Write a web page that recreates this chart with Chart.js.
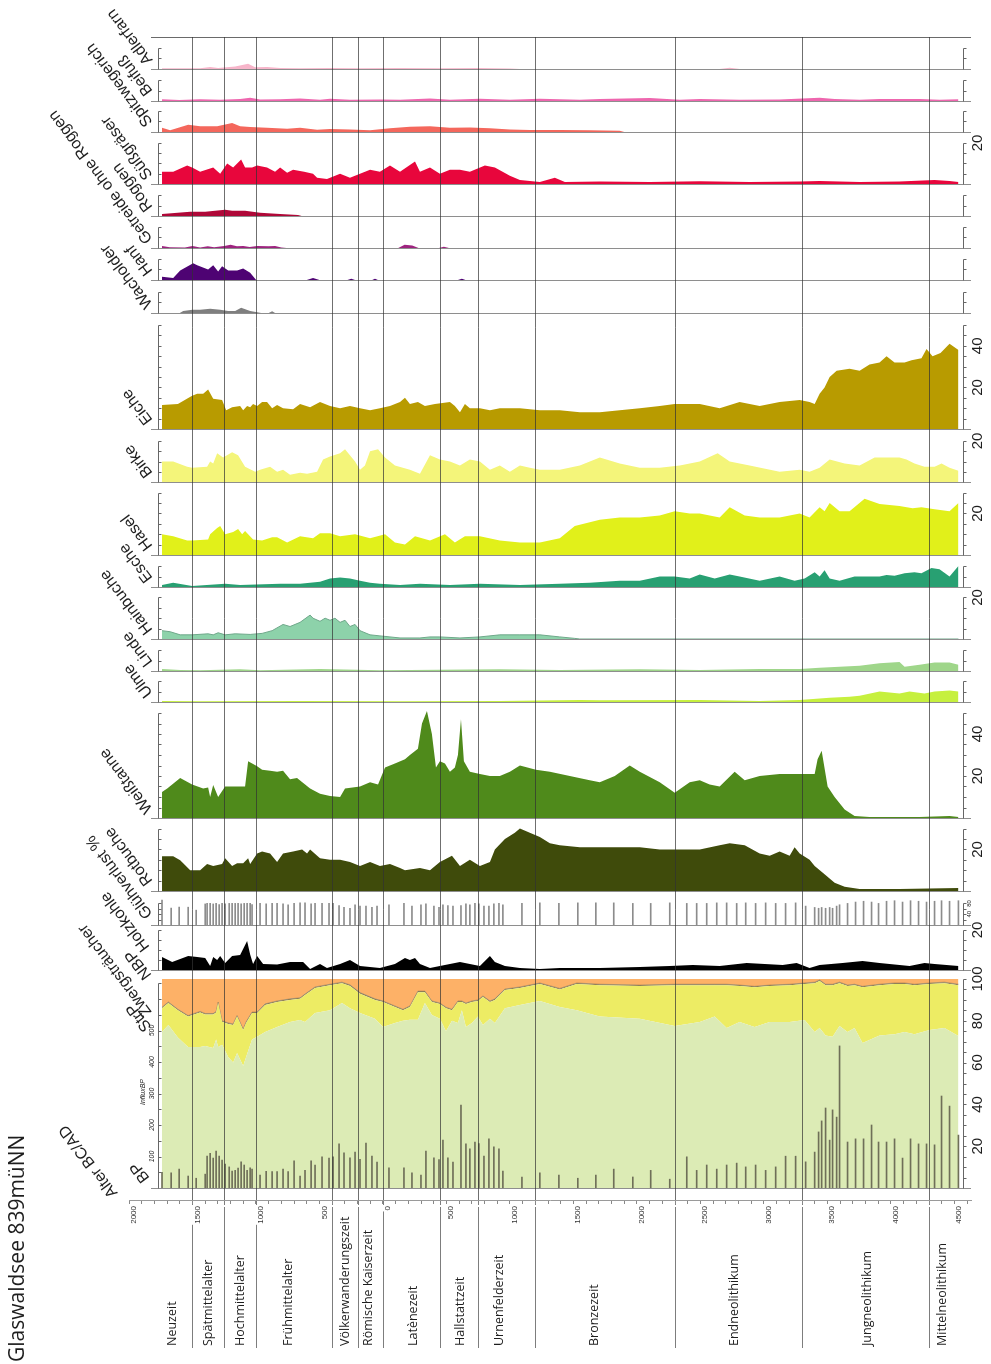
<!DOCTYPE html>
<html>
<head>
<meta charset="utf-8">
<script src="https://cdn.jsdelivr.net/npm/chart.js@4.4.1/dist/chart.umd.min.js"></script>
<style>
  body { margin: 0; background: #fff; }
  canvas { display: block; }
</style>
</head>
<body>
<canvas id="diagram" width="991" height="1364"></canvas>
<script>
// ---- data: ages in years, AD negative / BC positive; values in % ----
const taxonNames = ['Adlerfarn', 'Beifuß', 'Spitzwegerich', 'Süßgräser', 'Roggen', 'Getreide ohne Roggen',
  'Hanf', 'Wacholder', 'Eiche', 'Birke', 'Hasel', 'Esche', 'Hainbuche', 'Linde', 'Ulme', 'Weißtanne',
  'Rotbuche', 'Glühverlust %', 'Holzkohle', 'NBP', 'Zwergsträucher', 'StrP', 'BP'];

const periodNames = ['Neuzeit', 'Spätmittelalter', 'Hochmittelalter', 'Frühmittelalter', 'Völkerwanderungszeit',
  'Römische Kaiserzeit', 'Latènezeit', 'Hallstattzeit', 'Urnenfelderzeit', 'Bronzezeit', 'Endneolithikum',
  'Jungneolithikum', 'Mittelneolithikum'];
const periodBounds = [-1500, -1250, -1000, -400, -200, 0, 450, 750, 1200, 2300, 3300, 4300];
const periodLabelAges = [-1660, -1377, -1125, -747, -299, -118, 236, 606, 920, 1668, 2769, 3815, 4405];

const adlerfarn = [[-1740,0.3],[-1440,0.3],[-1361,1],[-1298,0.5],[-1164,1.2],[-1062,2.5],[-1007,0.8],[-913,1],[-810,0.5],[-653,0.3],[-417,0.5],[-181,0.3],[134,0.5],[448,0.3],[763,0.5],[999,0.2],[1078,0],[2650,0],[2730,0.6],[2810,0]];
const beifuss = [[-1740,0.8],[-1604,0.5],[-1440,0.8],[-1282,0.6],[-1125,1],[-1046,1.6],[-968,0.7],[-810,0.8],[-653,1.2],[-496,0.6],[-417,1.1],[-260,0.6],[-24,0.7],[134,0.6],[370,1.2],[527,0.6],[763,1.1],[999,0.6],[1235,1.1],[1550,0.6],[1707,1],[2101,1.4],[2337,0.6],[2494,1],[2808,0.6],[3123,0.7],[3438,1.5],[3556,1],[3753,0.6],[3910,1],[4225,1],[4382,0.6],[4531,0.8]];
const spitzwegerich = [[-1740,2],[-1676,0.8],[-1534,3.5],[-1440,2.7],[-1306,2.7],[-1188,4.3],[-1125,2.7],[-1046,2.4],[-913,2],[-755,1.6],[-653,2],[-519,1.1],[-417,1.4],[-260,1.2],[-102,0.8],[55,1.8],[212,2.5],[370,2.7],[527,2],[684,2.2],[842,1.8],[999,1.2],[1156,1],[1392,1],[1628,0.8],[1864,0.6],[1900,0]];
const suessgraeser = [[-1740,6],[-1652,6],[-1542,9],[-1503,8],[-1440,6],[-1337,8],[-1282,5],[-1227,10],[-1180,8],[-1117,12],[-1086,8],[-1031,8],[-991,9],[-913,8],[-850,6],[-810,8],[-755,5.5],[-708,7],[-621,6],[-551,5],[-519,3],[-441,2.5],[-338,5],[-260,3],[-181,5],[-102,7],[-24,6],[55,9],[134,6],[252,11],[291,6],[370,8],[448,5],[527,7],[606,7],[684,6],[802,9],[881,8],[999,4],[1078,2],[1235,1],[1353,3],[1432,1],[1707,1.2],[2101,1],[2494,1.3],[2887,1],[3281,1.2],[3438,1.5],[3753,1],[4067,1.2],[4343,2],[4461,1.5],[4531,1]];
const roggen = [[-1740,1],[-1518,2],[-1400,2],[-1243,3],[-1188,2.5],[-1086,2.5],[-968,1.5],[-810,1],[-669,0.5],[-640,0]];
const getreide = [[-1740,1],[-1680,0.3],[-1560,0.2],[-1500,1],[-1440,0.2],[-1380,0.8],[-1330,0.3],[-1250,1],[-1200,1.5],[-1150,0.8],[-1100,1],[-1050,0.5],[-990,1],[-900,0.8],[-850,1],[-800,0.2],[-760,0],[120,0],[170,1.5],[230,1.2],[280,0],[440,0],[480,0.6],[520,0]];
const hanf = [[-1740,1.5],[-1652,1],[-1597,4.5],[-1495,8],[-1463,7],[-1377,5],[-1337,7],[-1298,4],[-1267,6.5],[-1219,4.5],[-1149,4.5],[-1101,5.5],[-1046,3.5],[-999,0],[-600,0],[-551,1],[-500,0],[-280,0],[-250,0.6],[-220,0],[-85,0],[-63,0.6],[-40,0],[590,0],[621,0.6],[650,0]];
const wacholder = [[-1600,0],[-1573,1],[-1500,1.5],[-1440,1.5],[-1361,2],[-1282,1.5],[-1219,1],[-1164,1],[-1117,2.5],[-1046,1],[-991,0.3],[-960,0],[-900,0],[-873,0.8],[-850,0]];
const eiche = [[-1740,11.5],[-1615,12],[-1503,16],[-1463,17],[-1416,17],[-1377,19],[-1337,14.5],[-1267,14],[-1235,9],[-1188,10.5],[-1125,11],[-1101,9],[-1070,11],[-1046,10.5],[-1023,12],[-991,11],[-952,13],[-913,13],[-873,10],[-834,11.5],[-787,10],[-708,9.5],[-653,12],[-574,10.5],[-496,13],[-417,11],[-338,10],[-260,11],[-181,10],[-102,9],[-24,10],[55,11],[134,13],[173,15],[212,12],[275,13],[330,11],[409,12],[527,13],[566,11],[606,8],[645,12],[684,10],[763,10],[842,9],[920,10],[1078,10],[1235,9],[1392,9],[1550,8],[1707,8],[1864,9],[2022,10],[2179,11],[2297,12],[2494,12],[2651,10],[2808,13],[2966,11],[3123,13],[3281,14],[3359,13],[3399,12],[3438,17],[3477,20],[3517,25],[3572,28],[3674,29],[3753,28],[3831,31],[3910,32],[3965,35],[4028,32],[4107,32],[4162,33],[4240,34],[4280,38.5],[4327,35],[4390,36.5],[4461,41],[4531,38]];
const birke = [[-1740,10],[-1652,10],[-1542,7.5],[-1503,7],[-1385,7.5],[-1361,10],[-1337,9],[-1306,14],[-1259,12],[-1188,14.5],[-1141,13],[-1086,7.5],[-1007,5],[-968,6],[-889,7.5],[-834,5],[-787,6],[-732,3.5],[-653,4.5],[-598,4],[-519,5],[-472,11],[-417,12.5],[-338,14],[-299,16],[-220,10],[-181,6],[-142,8],[-102,15],[-39,16],[16,12],[94,8],[212,6],[291,4],[370,13],[448,11],[527,10],[606,8],[684,11],[763,10],[842,6],[920,8],[999,5],[1078,8],[1156,7],[1235,6],[1392,6],[1550,8],[1707,12],[1864,9],[2022,7],[2179,7],[2337,8],[2494,10],[2635,14],[2730,10],[2887,8],[3123,5],[3281,6],[3359,5],[3438,7],[3517,11],[3635,9],[3753,8],[3871,12],[4067,12],[4122,11],[4185,9],[4264,7.5],[4343,7.5],[4398,9],[4461,7],[4531,5.5]];
const hasel = [[-1740,10],[-1652,9],[-1542,7],[-1503,7],[-1377,7.5],[-1361,10],[-1306,13],[-1282,14],[-1243,10],[-1180,11],[-1141,12.5],[-1109,10],[-1086,11.5],[-1023,7.5],[-952,7],[-873,8.5],[-834,8.5],[-755,6],[-653,9],[-551,8],[-496,10.5],[-417,10.5],[-338,9],[-220,10],[-102,8],[16,10],[94,6],[173,5],[252,9],[370,7],[488,10],[566,6],[645,9],[763,9],[920,7],[1078,6],[1235,6],[1392,8],[1510,14],[1707,17],[1864,18],[2022,18],[2179,19],[2297,21],[2415,20],[2494,20],[2651,18],[2730,23],[2848,19],[2966,18],[3123,18],[3281,20],[3359,18],[3438,23],[3477,21],[3517,25],[3595,21],[3674,21],[3792,27],[3910,24.5],[4067,23.5],[4170,22.5],[4240,23],[4343,22],[4461,21],[4531,25]];
const esche = [[-1740,1],[-1652,2],[-1503,0.5],[-1243,1.5],[-1125,1],[-810,1.5],[-653,1.5],[-496,2.5],[-417,4],[-338,4.5],[-260,4],[-181,3],[-102,2],[-24,1.5],[134,1],[291,1.5],[527,1],[763,1.5],[1078,1],[1392,1.5],[1628,2],[1864,3],[2022,3],[2179,5],[2297,5],[2415,4],[2494,6],[2612,4],[2730,6],[2808,5],[2966,3],[3123,5],[3241,3],[3320,4],[3399,7],[3438,5],[3477,8],[3517,4],[3595,3],[3713,5],[3831,5],[3910,5],[3965,5.7],[4028,5.3],[4107,6.5],[4185,7],[4240,6.5],[4319,9],[4382,8.5],[4461,5],[4531,10]];
const hainbuche = [[-1740,4],[-1676,3.5],[-1597,2],[-1503,2],[-1377,2.5],[-1337,2],[-1298,3],[-1243,2],[-1164,2.5],[-1046,2.2],[-952,2.7],[-873,4],[-787,7],[-732,6],[-653,8],[-574,11.5],[-551,10],[-496,8.5],[-456,10],[-417,9],[-378,10],[-338,8],[-299,9],[-260,6],[-220,7],[-181,4],[-102,2],[-24,1.5],[55,1],[134,0.5],[291,0.5],[370,1],[448,1],[606,0.5],[763,1],[920,2],[1078,2],[1235,2],[1392,1],[1510,0.3],[1550,0],[4531,0]];
const linde = [[-1740,1],[-1597,0.5],[-1440,0.3],[-1125,0.8],[-968,0.3],[-496,1],[-24,0.3],[920,0.8],[1392,0.5],[2022,0.8],[2494,0.5],[2966,1],[3281,1],[3438,1.5],[3595,2],[3753,2.5],[3910,3.7],[4067,4.3],[4107,2],[4225,3],[4343,4],[4461,4],[4531,3]];
const ulme = [[-1740,0.5],[-1440,0.3],[-653,0.5],[134,0.3],[920,0.5],[1550,1],[1707,0.8],[2494,1],[2966,0.5],[3281,1],[3517,2],[3674,2.5],[3753,3],[3910,5],[4067,4],[4146,5],[4264,4],[4343,5],[4461,5.5],[4531,5]];
const weisstanne = [[-1740,12.4],[-1699,14],[-1597,19],[-1503,16],[-1416,14],[-1377,14.5],[-1361,10],[-1337,15.7],[-1298,10],[-1243,15],[-1125,15],[-1086,15],[-1062,27],[-991,24.7],[-952,23],[-889,22.5],[-834,22],[-787,22.5],[-732,18.5],[-677,19],[-574,14],[-496,11.5],[-417,10.5],[-338,10],[-299,14],[-181,15],[-102,17],[-39,16],[16,24],[94,26],[173,28],[212,30],[275,33],[307,45],[346,51],[385,40],[417,24],[448,27],[488,26],[527,22],[566,24],[590,30],[614,47],[637,27],[684,22],[763,21],[842,20],[920,20],[999,22],[1078,25],[1204,23],[1314,22],[1471,20],[1628,18],[1707,17],[1825,20],[1943,25],[2022,22],[2179,17],[2297,12],[2415,17],[2494,18],[2572,16],[2651,15],[2769,22],[2848,18],[2966,20],[3123,21],[3281,21],[3399,21],[3422,28],[3454,32],[3501,15],[3556,10],[3635,4],[3713,1],[3831,0.5],[4067,0.5],[4225,0.5],[4461,1],[4531,0.5]];
const rotbuche = [[-1740,16.7],[-1652,16.7],[-1597,14.8],[-1518,10],[-1440,10],[-1385,13],[-1337,12],[-1267,13],[-1243,15.7],[-1188,12],[-1149,13.3],[-1101,13.3],[-1062,15.7],[-1046,13],[-991,18],[-952,19],[-889,18],[-834,14],[-787,18],[-708,19],[-637,20],[-598,18],[-574,20],[-496,15.7],[-417,15],[-338,15],[-260,14],[-181,12],[-102,14],[-24,12],[55,13],[134,11],[173,10],[291,11],[370,10],[448,14],[543,17],[606,12],[684,15],[763,12],[842,14],[881,20],[960,25],[1038,28],[1078,30],[1156,28],[1235,26],[1314,23],[1392,22],[1550,21],[1707,21],[1864,21],[2022,21],[2179,20],[2337,20],[2494,20],[2651,22],[2730,23],[2848,22],[2966,18],[3045,17],[3123,19],[3202,17],[3241,21],[3281,18],[3359,15],[3399,12],[3477,8],[3556,4],[3635,2],[3753,1],[4067,1],[4531,1.5]];
const holzkohle = [[-1740,6.5],[-1660,4],[-1534,7],[-1463,6.5],[-1400,6],[-1361,2],[-1337,6.5],[-1306,5],[-1282,7],[-1243,3.5],[-1188,7],[-1125,7.5],[-1070,14.5],[-1046,7.7],[-1023,3],[-991,7],[-944,3],[-834,2.7],[-732,4],[-629,4],[-574,0.5],[-496,3],[-441,1],[-338,3],[-260,5],[-181,2],[-24,1],[94,3],[173,6],[212,5],[252,6],[291,3],[370,1],[448,2],[527,3],[606,4],[684,3],[763,2],[842,7],[881,4],[960,2],[1078,1],[1235,0.5],[1392,1],[1707,1],[2022,1.5],[2258,2],[2439,2.5],[2651,2],[2864,3.5],[3147,2.5],[3257,3.5],[3359,1],[3438,2.5],[3619,3.5],[3776,4.5],[3910,3.5],[4146,2],[4264,3.5],[4343,3],[4531,2]];

// samples shared by the bar series (Glühverlust %, pollen influx)
const sampleAges = [-1740,-1668,-1605,-1534,-1471,-1400,-1385,-1361,-1337,-1314,-1290,-1267,-1243,-1211,-1188,-1164,-1141,-1117,-1093,-1070,-1046,-1031,-968,-920,-873,-834,-787,-747,-700,-653,-614,-566,-535,-480,-425,-393,-346,-307,-260,-220,-181,-134,-87,-47,47,165,228,299,338,401,441,472,511,551,614,653,684,724,755,795,834,873,913,944,1094,1235,1385,1534,1676,1817,1967,2108,2258,2392,2470,2549,2628,2706,2785,2856,2934,3013,3092,3170,3249,3328,3399,3430,3454,3485,3517,3540,3572,3595,3658,3721,3784,3847,3902,3965,4028,4091,4154,4217,4280,4343,4398,4461,4531];
const gluehverlust = [92,63,66,66,55,78,80,80,78,80,76,80,78,80,80,80,80,78,80,80,80,76,80,78,80,80,78,75,80,82,82,78,80,80,80,80,72,65,62,75,70,70,65,70,75,80,70,75,78,70,65,75,72,70,72,78,75,80,78,70,70,78,80,75,80,82,80,82,82,82,80,80,82,80,80,80,82,82,80,82,80,82,80,80,82,70,65,62,65,62,65,62,70,75,80,85,88,85,80,88,90,85,90,88,85,88,90,88,90];
const influx = [50,48,60,38,31,44,101,110,95,117,101,89,76,67,54,56,63,83,73,56,64,60,41,53,52,52,60,52,86,38,56,86,73,99,95,99,140,112,96,114,91,143,101,82,64,64,48,41,117,96,90,152,96,82,263,140,124,146,141,101,156,131,124,54,35,48,41,31,41,60,35,56,28,99,56,73,60,73,79,67,73,56,67,101,101,83,114,178,213,254,152,248,225,451,146,156,156,200,146,146,156,95,156,140,140,137,292,260,168];

// main diagram (stacked to 100 %)
const mainAges = [-1740,-1690,-1615,-1535,-1440,-1400,-1337,-1314,-1298,-1267,-1219,-1180,-1149,-1101,-1078,-1031,-991,-928,-834,-732,-653,-614,-535,-417,-323,-260,-181,-63,0,94,157,212,275,330,385,448,496,543,590,621,653,700,747,787,842,881,960,1078,1235,1392,1526,1707,2022,2297,2494,2612,2706,2808,2926,3045,3202,3320,3399,3438,3485,3540,3595,3658,3713,3776,3910,4028,4107,4185,4303,4421,4531];
const bp = [74.6,78,72,67.5,67.5,68,67,71,67.5,68.5,62.7,60,64.6,58.4,62.7,71,72.4,74.6,77,79.4,80.4,79.4,83.7,85,88.5,86,83.7,81,77,79,80,80.5,80.5,88.5,82.8,81,75,80,79,85,77,79,82,78,81,79,86,87.6,89.5,86.6,85,82,81,77.5,79.4,82,76.5,79.4,77,79.4,79.4,80.4,74.6,76.5,73,72.4,77.5,74.6,76.5,69.4,73,73.6,74.6,73.6,75.6,76.5,72.7];
const strp = [11.4,10.5,13,14.5,16.5,15,16,13,21,11,15.8,18,17.4,17.2,16.3,12.7,11.3,13,12,10.6,10.1,12.9,12,12,9.5,10.7,9.3,9,12,7.6,5,6.1,13.2,5.2,6.2,7,11,5,10,4,11,10,7.5,13.4,8,11,8.7,8.1,8.1,8.4,12.6,15,15.6,19.5,17.6,15,20.5,17.2,19,17.2,17.6,17.2,23.4,22.5,24,24.6,20.5,22,20.5,26.6,24,24,23,23.4,22,21.5,24.3];
const zwerg = [0.5,0.5,0.5,0.5,0.5,0.5,0.5,0.5,0.5,0.5,0.5,0.5,0.5,0.5,0.5,0.5,0.5,0.5,0.5,0.5,0.5,0.5,0.5,0.5,0.5,0.5,0.5,0.5,0.5,0.5,0.5,0.5,0.5,0.5,0.5,0.5,0.5,0.5,0.5,0.5,0.5,0.5,0.5,0.5,0.5,0.5,0.5,0.5,0.5,0.5,0.5,0.5,0.5,0.5,0.5,0.5,0.5,0.5,0.5,0.5,0.5,0.5,0.5,0.5,0.5,0.5,0.5,0.5,0.5,0.5,0.5,0.5,0.5,0.5,0.5,0.5,0.5];
const nbp = [13.5,11,14.5,17.5,15.5,16.5,16.5,15.5,11,20,21,21.5,17.5,23.9,20.5,15.8,15.8,11.9,10.5,9.5,9,7.2,3.8,2.5,1.5,2.8,6.5,9.5,10.5,12.9,14.5,12.9,5.8,5.8,10.5,11.5,13.5,14.5,10.5,10.5,11.5,10.5,10,8.1,10.5,9.5,4.8,3.8,1.9,4.5,1.9,2.5,2.9,2.5,2.5,2.5,2.5,2.9,3.5,2.9,2.5,1.9,1.5,0.5,2.5,2.5,1.5,2.9,2.5,3.5,2.5,1.9,1.9,2.5,1.9,1.5,2.5];

// ---- layout: chart area and panel geometry (pixel baseline, px per unit) ----
const AREA_TOP = 37, AREA_BOTTOM = 1200;
const panels = [
  { id: 'yAdler',  base: 69,   k: 2.1,  top: 10,  step: 5,  right: [] },
  { id: 'yBeif',   base: 101,  k: 2.1,  top: 10,  step: 5,  right: [] },
  { id: 'ySpitz',  base: 132,  k: 2.1,  top: 10,  step: 5,  right: [] },
  { id: 'ySuess',  base: 184,  k: 2.05, top: 20,  step: 5,  right: [20] },
  { id: 'yRogg',   base: 216,  k: 2.1,  top: 10,  step: 5,  right: [] },
  { id: 'yGetr',   base: 248,  k: 2.1,  top: 10,  step: 5,  right: [] },
  { id: 'yHanf',   base: 280,  k: 2.1,  top: 10,  step: 5,  right: [] },
  { id: 'yWach',   base: 313,  k: 2.1,  top: 10,  step: 5,  right: [] },
  { id: 'yEiche',  base: 429,  k: 2.08, top: 50,  step: 5,  right: [20, 40] },
  { id: 'yBirke',  base: 482,  k: 2.05, top: 20,  step: 5,  right: [20] },
  { id: 'yHasel',  base: 555,  k: 2.08, top: 30,  step: 5,  right: [20] },
  { id: 'yEsche',  base: 587,  k: 2.1,  top: 10,  step: 5,  right: [] },
  { id: 'yHainb',  base: 639,  k: 2.08, top: 20,  step: 5,  right: [20] },
  { id: 'yLinde',  base: 671,  k: 2.1,  top: 10,  step: 5,  right: [] },
  { id: 'yUlme',   base: 702,  k: 2.1,  top: 10,  step: 5,  right: [] },
  { id: 'yTanne',  base: 818,  k: 2.1,  top: 50,  step: 5,  right: [20, 40] },
  { id: 'yBuche',  base: 891,  k: 2.08, top: 30,  step: 5,  right: [20] },
  { id: 'yGlut',   base: 925,  k: 0.27, top: 80,  step: 20, right: [40, 80], small: true },
  { id: 'yKohle',  base: 970,  k: 2.0,  top: 20,  step: 5,  right: [20] },
  { id: 'yMain',   base: 1188, k: 2.09, top: 100, step: 5,  right: [20, 40, 60, 80, 100] }
];
const influxAxis = { id: 'yInflux', base: 1188, k: 0.315, top: 650, step: 50, left: [100, 200, 300, 400, 500] };

const labelSpots = [
  [153, 60], [153, 91], [153, 122], [153, 175], [153, 207], [153, 239], [153, 271], [153, 304],
  [153, 420], [153, 473], [153, 546], [153, 578], [153, 630], [153, 662], [153, 693], [153, 809],
  [153, 881], [153, 914], [150, 947], [152, 975], [152, 1012], [152, 1027], [150, 1178]
];

const series = [
  { d: adlerfarn,     axis: 'yAdler', color: '#F7B5CA' },
  { d: beifuss,       axis: 'yBeif',  color: '#EE66AE' },
  { d: spitzwegerich, axis: 'ySpitz', color: '#F4675C' },
  { d: suessgraeser,  axis: 'ySuess', color: '#E8063C' },
  { d: roggen,        axis: 'yRogg',  color: '#AF0838' },
  { d: getreide,      axis: 'yGetr',  color: '#9E237F' },
  { d: hanf,          axis: 'yHanf',  color: '#4E0373' },
  { d: wacholder,     axis: 'yWach',  color: '#7F7F7F' },
  { d: eiche,         axis: 'yEiche', color: '#B89B00' },
  { d: birke,         axis: 'yBirke', color: '#F4F57A' },
  { d: hasel,         axis: 'yHasel', color: '#E1F01A' },
  { d: esche,         axis: 'yEsche', color: '#28A072' },
  { d: hainbuche,     axis: 'yHainb', color: '#8DD2AA', border: '#6FA88A' },
  { d: linde,         axis: 'yLinde', color: '#9FD68A' },
  { d: ulme,          axis: 'yUlme',  color: '#C6F03E' },
  { d: weisstanne,    axis: 'yTanne', color: '#4F8A1B' },
  { d: rotbuche,      axis: 'yBuche', color: '#3F4B0B' },
  { d: holzkohle,     axis: 'yKohle', color: '#000000' }
];

const datasets = [];
datasets.push({
  type: 'bar', label: 'Influx', yAxisID: 'yInflux', order: 0, grouped: false, barThickness: 1,
  backgroundColor: '#6f6f58', data: sampleAges.map((a, i) => ({ x: a, y: influx[i] }))
});
datasets.push({
  type: 'bar', label: 'Glühverlust %', yAxisID: 'yGlut', order: 0, grouped: false, barThickness: 1,
  backgroundColor: '#8c8c8c', data: sampleAges.map((a, i) => ({ x: a, y: gluehverlust[i] }))
});
series.forEach((s, i) => {
  datasets.push({
    type: 'line', label: taxonNames[i], yAxisID: s.axis, order: 1,
    data: s.d.map(p => ({ x: p[0], y: p[1] })),
    fill: 'origin', backgroundColor: s.color,
    borderColor: s.border || 'rgba(0,0,0,0)', borderWidth: s.border ? 1 : 0,
    pointRadius: 0, tension: 0
  });
});
const mainParts = [
  { label: 'BP', v: bp, color: '#DCEBB5', fill: 'origin' },
  { label: 'StrP', v: strp, color: '#EDEC64', fill: '-1' },
  { label: 'Zwergsträucher', v: zwerg, color: '#9a8a60', fill: '-1', border: 'rgba(90,80,55,0.55)' },
  { label: 'NBP', v: nbp, color: '#FDB167', fill: '-1' }
];
mainParts.forEach(m => {
  datasets.push({
    type: 'line', label: m.label, yAxisID: 'yMain', order: 2,
    data: mainAges.map((a, i) => ({ x: a, y: m.v[i] })),
    fill: m.fill, backgroundColor: m.color,
    borderColor: m.border || 'rgba(0,0,0,0)', borderWidth: m.border ? 0.6 : 0,
    pointRadius: 0, tension: 0
  });
});

function rangeFor(p) {
  return { min: -(AREA_BOTTOM - p.base) / p.k, max: (p.base - AREA_TOP) / p.k };
}
const scales = {
  x: {
    type: 'linear', position: 'bottom', min: -2000, max: 4630, offset: false,
    afterFit: (s) => { s.height = 40; s.paddingLeft = 0; s.paddingRight = 0; },
    grid: { offset: false, drawOnChartArea: false, drawTicks: true, tickLength: 4, color: '#888' },
    border: { display: true, color: '#9a9a9a' },
    ticks: {
      stepSize: 100, includeBounds: false, autoSkip: false, minRotation: 90, maxRotation: 90,
      color: '#333', font: { size: 8, family: '"Liberation Sans", Arial' }, padding: 2,
      showLabelBackdrop: true, backdropColor: '#ffffff', backdropPadding: 1,
      callback: (v) => (v % 500 === 0 ? String(Math.abs(v)) : '')
    }
  }
};
panels.forEach(p => {
  scales[p.id] = Object.assign({ type: 'linear', display: false, stacked: p.id === 'yMain' }, rangeFor(p));
});
scales[influxAxis.id] = Object.assign({ type: 'linear', display: false }, rangeFor(influxAxis));

function rotText(ctx, txt, x, y, ang, font, align, baseline) {
  ctx.save();
  ctx.translate(x, y);
  ctx.rotate(ang);
  ctx.font = font;
  ctx.fillStyle = '#1e1e1e';
  ctx.textAlign = align;
  ctx.textBaseline = baseline;
  ctx.fillText(txt, 0, 0);
  ctx.restore();
}
function hline(ctx, x0, x1, y, color) {
  ctx.strokeStyle = color;
  ctx.beginPath(); ctx.moveTo(x0, y); ctx.lineTo(x1, y); ctx.stroke();
}
function bracket(ctx, x, yTop, yBot, ticks) {
  ctx.beginPath();
  ctx.moveTo(x, yTop); ctx.lineTo(x, yBot);
  ticks.forEach(t => { ctx.moveTo(x, t); ctx.lineTo(x + 3, t); });
  ctx.stroke();
}

const diagramFrame = {
  id: 'diagramFrame',
  beforeDraw(chart) {
    const { ctx } = chart;
    const xs = chart.scales.x;
    ctx.save();
    ctx.lineWidth = 1;
    ctx.strokeStyle = 'rgba(70,70,70,0.7)';
    ctx.beginPath();
    periodBounds.forEach(a => {
      const px = Math.round(xs.getPixelForValue(a)) + 0.5;
      ctx.moveTo(px, AREA_BOTTOM); ctx.lineTo(px, 1348);
    });
    ctx.stroke();
    ctx.restore();
  },
  afterDatasetsDraw(chart) {
    const { ctx } = chart;
    const xs = chart.scales.x;
    ctx.save();
    ctx.lineWidth = 1;
    hline(ctx, 151, 971, AREA_TOP + 0.5, '#6a6a6a');
    panels.forEach(p => {
      const ys = chart.scales[p.id];
      const y0 = Math.round(ys.getPixelForValue(0)) + 0.5;
      hline(ctx, 151, 971, y0, '#8e8e8e');
      const ticks = [];
      for (let v = p.step; v <= p.top + 1e-6; v += p.step) ticks.push(Math.round(ys.getPixelForValue(v)) + 0.5);
      ctx.strokeStyle = '#666';
      bracket(ctx, 963.5, ticks[ticks.length - 1], y0, ticks);
      if (p.id !== 'yMain') bracket(ctx, 158.5, ticks[ticks.length - 1], y0, ticks);
    });
    // influx axis on the left of the main panel
    const yi = chart.scales[influxAxis.id];
    const iticks = [];
    for (let v = influxAxis.step; v <= influxAxis.top; v += influxAxis.step) iticks.push(Math.round(yi.getPixelForValue(v)) + 0.5);
    ctx.strokeStyle = '#666';
    bracket(ctx, 158.5, iticks[iticks.length - 1], Math.round(yi.getPixelForValue(0)) + 0.5, iticks);
    // period boundaries across the panels
    ctx.strokeStyle = 'rgba(50,50,50,0.7)';
    ctx.beginPath();
    periodBounds.forEach(a => {
      const px = Math.round(xs.getPixelForValue(a)) + 0.5;
      ctx.moveTo(px, AREA_TOP); ctx.lineTo(px, AREA_BOTTOM);
    });
    ctx.stroke();
    ctx.restore();
  },
  afterDraw(chart) {
    const { ctx } = chart;
    const xs = chart.scales.x;
    const up = -Math.PI / 2;
    // title
    rotText(ctx, 'Glaswaldsee 839müNN', 18, 1362, up, '21px "Open Sans"', 'left', 'middle');
    // period names
    periodNames.forEach((n, i) => {
      rotText(ctx, n, xs.getPixelForValue(periodLabelAges[i]), 1346, up, '12.5px "Open Sans"', 'left', 'middle');
    });
    // right axis labels
    panels.forEach(p => {
      const ys = chart.scales[p.id];
      p.right.forEach(v => {
        if (p.small) rotText(ctx, String(v), 969, ys.getPixelForValue(v), up, '6px "Liberation Sans"', 'center', 'middle');
        else rotText(ctx, String(v), 978, ys.getPixelForValue(v), up, '15px "Liberation Sans"', 'center', 'middle');
      });
    });
    // influx labels
    const yi = chart.scales[influxAxis.id];
    influxAxis.left.forEach(v => {
      rotText(ctx, String(v), 152, yi.getPixelForValue(v), up, 'italic 7px "Liberation Sans"', 'center', 'middle');
    });
    rotText(ctx, 'InfluxBP', 143, 1092, up, 'italic 7px "Liberation Sans"', 'center', 'middle');
    // taxon labels, slanted
    const slant = -127 * Math.PI / 180;
    taxonNames.forEach((n, i) => {
      rotText(ctx, n, labelSpots[i][0], labelSpots[i][1], slant, '16px "Liberation Sans"', 'left', 'alphabetic');
    });
    rotText(ctx, 'Alter BC/AD', 118, 1193, slant, '16px "Liberation Sans"', 'left', 'alphabetic');
  }
};

new Chart(document.getElementById('diagram').getContext('2d'), {
  type: 'line',
  data: { datasets: datasets },
  options: {
    responsive: false,
    animation: false,
    devicePixelRatio: 1,
    events: [],
    layout: { padding: { left: 129, right: 20, top: AREA_TOP, bottom: 124 } },
    scales: scales,
    plugins: { legend: { display: false }, tooltip: { enabled: false } }
  },
  plugins: [diagramFrame]
});
</script>
</body>
</html>
